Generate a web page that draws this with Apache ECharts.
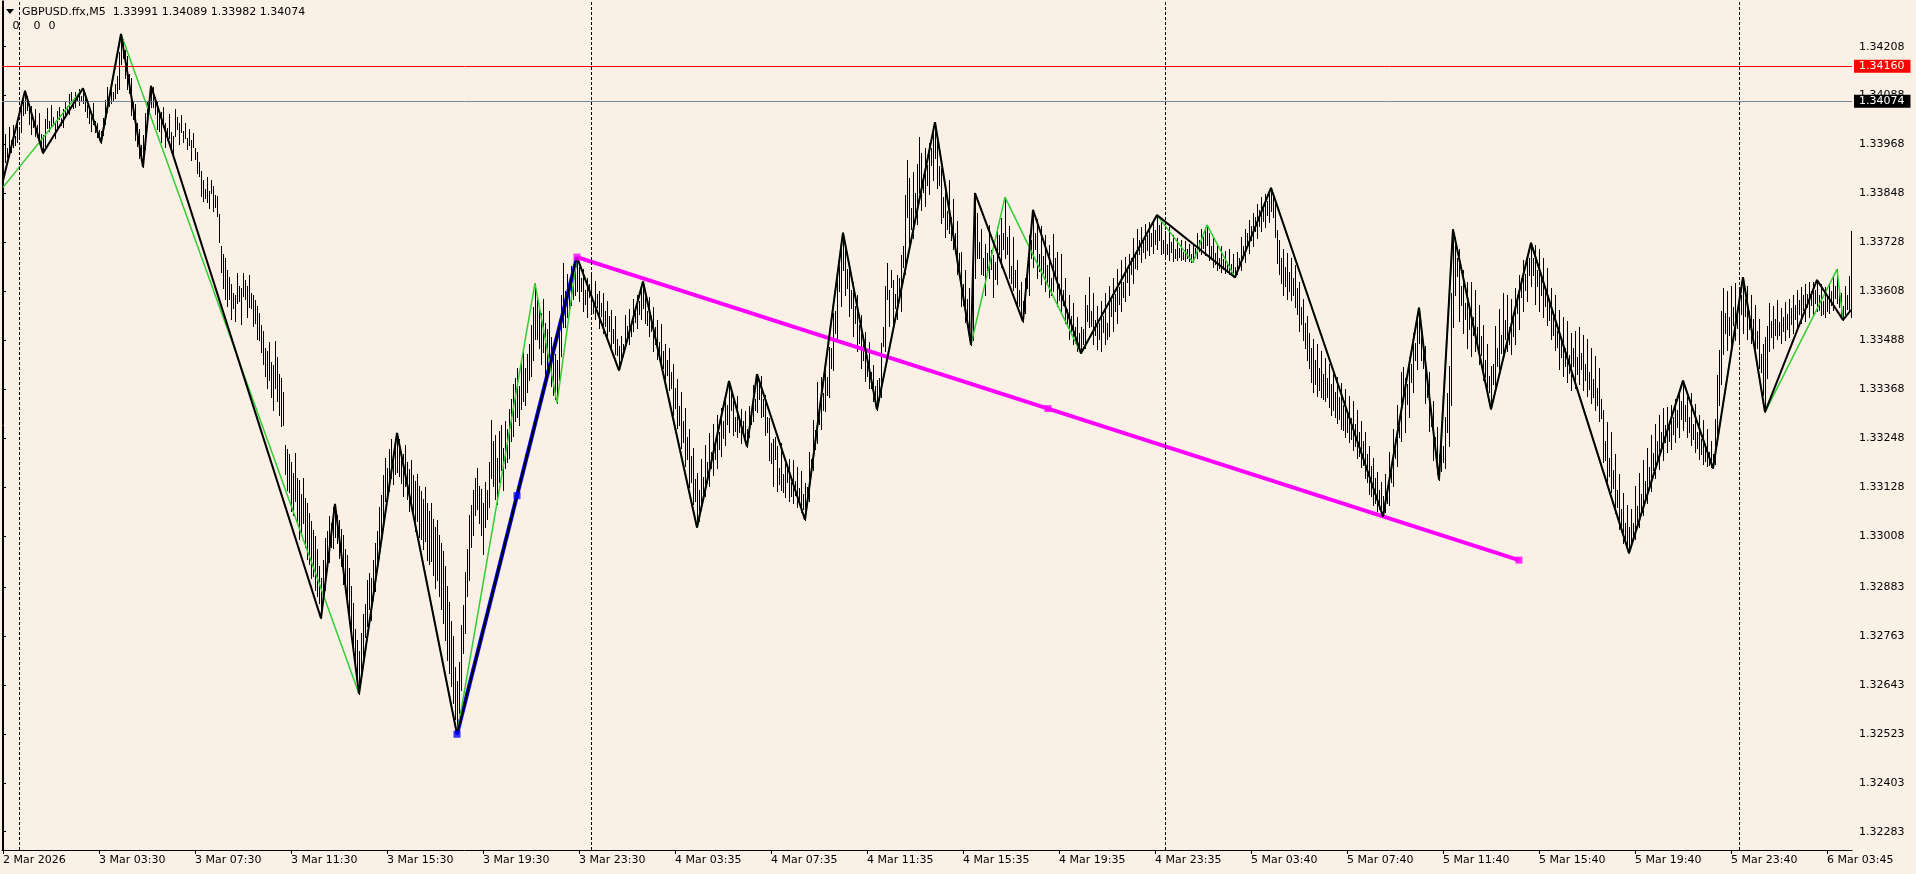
<!DOCTYPE html>
<html><head><meta charset="utf-8">
<script src="https://cdn.jsdelivr.net/npm/echarts@6/dist/echarts.min.js"></script>
<style>html,body{margin:0;padding:0;background:#FAF0E6;overflow:hidden}#c{width:1916px;height:874px}</style>
</head><body><div id="c"></div><script>
const FONT = 'DejaVu Sans';
const header = 'GBPUSD.ffx,M5  1.33991 1.34089 1.33982 1.34074';
const indicatorValues = ['0', '0', '0'];
const tickLabels = ['2 Mar 2026','3 Mar 03:30','3 Mar 07:30','3 Mar 11:30','3 Mar 15:30','3 Mar 19:30','3 Mar 23:30','4 Mar 03:35','4 Mar 07:35','4 Mar 11:35','4 Mar 15:35','4 Mar 19:35','4 Mar 23:35','5 Mar 03:40','5 Mar 07:40','5 Mar 11:40','5 Mar 15:40','5 Mar 19:40','5 Mar 23:40','6 Mar 03:45'];
const TICK_STEP = 48; // bars between time labels
const yTicks = [1.34208,1.34088,1.33968,1.33848,1.33728,1.33608,1.33488,1.33368,1.33248,1.33128,1.33008,1.32883,1.32763,1.32643,1.32523,1.32403,1.32283];
const daySeparators = [8, 294, 581, 868];
const redLevel = 1.34160;
const bidLevel = 1.34074;

// M5 bars: [high, low] in points above 1.30000 (1 point = 0.00001)
const barHighLow = [
// 0-11
[3935,3880],[3995,3925],[3960,3938],[4012,3945],[3978,3950],[4016,3962],[3990,3968],[4022,3975],[4005,3988],[4064,3998],[4082,4040],[4100,4045],
// 12-20
[4088,4052],[4060,4018],[4062,3995],[4030,4012],[4055,3990],[4015,3986],[4045,3978],[3995,3965],[3992,3947],
// 21-40
[4030,3965],[4058,4008],[4025,4002],[4066,4012],[4035,4015],[4020,3985],[4050,4004],[4060,4030],[4032,4016],[4055,4010],
[4072,4035],[4062,4048],[4092,4044],[4098,4072],[4078,4058],[4096,4060],[4085,4074],[4103,4066],[4088,4076],[4106,4070],
// 41-49
[4094,4050],[4066,4035],[4058,4020],[4036,4002],[4070,4018],[4025,3998],[4022,3986],[4004,3984],[4000,3973],
// 50-59
[4032,3992],[4078,4018],[4110,4048],[4085,4062],[4123,4070],[4098,4074],[4116,4082],[4135,4095],[4195,4105],[4239,4165],
// 60-70
[4228,4180],[4200,4130],[4185,4105],[4140,4095],[4130,4040],[4075,4030],[4068,3980],[4020,3965],[4005,3935],[3968,3932],[3992,3913],
// 71-74
[4045,3958],[4072,4018],[4088,4050],[4112,4060],
// 75-99
[4108,4060],[4085,4042],[4075,4005],[4040,4000],[4048,3975],[4060,4010],[4020,3962],[4008,3978],[4042,3985],[3998,3950],
[3990,3940],[4054,3990],[4035,4005],[4022,3970],[4040,3998],[4002,3975],[4020,3984],[3985,3958],[4005,3966],[3978,3930],
[3996,3962],[3960,3932],[3950,3898],[3925,3890],[3902,3842],
// 100-127
[3882,3830],[3860,3838],[3888,3826],[3855,3812],[3880,3848],[3866,3806],[3845,3815],[3842,3794],[3798,3730],[3718,3655],
[3700,3615],[3690,3590],[3660,3572],[3642,3590],[3625,3540],[3605,3568],[3598,3535],[3652,3580],[3620,3585],[3615,3528],
[3654,3596],[3635,3590],[3622,3545],[3648,3570],[3605,3566],[3600,3524],[3588,3530],[3572,3490],
// 128-159
[3556,3488],[3525,3460],[3512,3430],[3470,3400],[3462,3372],[3485,3390],[3435,3350],[3428,3318],[3487,3370],[3446,3340],
[3405,3305],[3395,3278],[3360,3280],[3232,3160],[3222,3120],[3208,3115],[3190,3070],[3162,3060],[3212,3095],[3150,3040],
[3146,3001],[3110,3010],[3151,3040],[3102,2980],[3090,2952],[3064,2940],[3045,2905],[3022,2910],[3008,2876],[2975,2862],
[2935,2845],[2905,2806],
// 160-166
[2950,2850],[3002,2875],[3020,2930],[3058,2945],[3040,2982],[3078,2978],[3087,3005],
// 167-178
[3060,2990],[3048,2955],[3025,2935],[3010,2890],[2975,2870],[2962,2840],[2930,2815],[2885,2768],[2845,2735],[2780,2695],[2752,2650],[2725,2621],
// 179-197
[2770,2668],[2818,2712],[2842,2760],[2900,2788],[2918,2830],[2905,2802],[2950,2850],[2990,2872],[3020,2930],[3080,2955],
[3108,3010],[3158,3040],[3200,3095],[3175,3110],[3222,3118],[3245,3150],[3200,3135],[3232,3160],[3261,3165],
// 198-227
[3245,3155],[3215,3138],[3210,3105],[3232,3130],[3190,3098],[3172,3070],[3195,3090],[3158,3052],[3142,3020],[3160,3045],
[3130,3005],[3118,3000],[3100,2975],[3128,2995],[3090,2950],[3070,2940],[3088,2948],[3050,2912],[3030,2880],[3048,2900],
[3010,2862],[2990,2828],[2972,2795],[2935,2752],[2885,2705],[2846,2672],[2800,2640],[2762,2598],[2688,2560],[2652,2522],
// 228-266
[2700,2575],[2790,2630],[2840,2720],[2920,2770],[2975,2860],[3059,2900],[3085,2980],[3120,3010],[3150,3060],[3174,3075],
[3130,3040],[3123,3010],[3090,2964],[3140,3030],[3120,3050],[3190,3080],[3292,3150],[3240,3130],[3255,3100],[3200,3086],
[3265,3140],[3280,3170],[3225,3120],[3290,3175],[3270,3190],[3320,3200],[3345,3240],[3380,3254],[3395,3290],[3420,3300],
[3375,3280],[3440,3320],[3461,3340],[3420,3330],[3455,3360],[3480,3390],[3525,3400],[3570,3440],[3628,3490],
// 267-277
[3600,3490],[3570,3470],[3555,3430],[3590,3460],[3530,3405],[3515,3395],[3560,3430],[3495,3375],[3470,3355],[3455,3345],[3440,3334],
// 278-287
[3520,3390],[3600,3450],[3677,3520],[3610,3520],[3650,3545],[3630,3555],[3670,3575],[3650,3590],[3680,3600],[3692,3610],
// 288-308
[3668,3585],[3640,3608],[3662,3560],[3612,3578],[3640,3546],[3625,3595],[3648,3555],[3585,3556],[3634,3540],[3602,3570],
[3610,3518],[3580,3548],[3604,3505],[3560,3522],[3585,3490],[3548,3512],[3562,3470],[3515,3482],[3548,3455],[3490,3452],[3475,3414],
// 309-320
[3498,3445],[3478,3452],[3550,3468],[3522,3492],[3565,3480],[3530,3499],[3590,3510],[3562,3532],[3600,3518],[3585,3552],[3615,3540],[3632,3568],
// 321-347
[3612,3530],[3560,3525],[3594,3498],[3548,3510],[3570,3462],[3520,3480],[3538,3442],[3485,3448],[3528,3425],[3462,3420],
[3480,3386],[3440,3402],[3468,3365],[3410,3372],[3430,3305],[3370,3322],[3392,3272],[3328,3280],[3360,3225],[3290,3238],
[3322,3180],[3250,3198],[3270,3128],[3205,3140],[3225,3086],[3148,3095],[3162,3029],
// 348-363
[3120,3045],[3198,3072],[3152,3112],[3232,3105],[3190,3148],[3260,3130],[3215,3175],[3282,3158],[3240,3198],[3305,3175],
[3262,3222],[3322,3205],[3290,3248],[3345,3232],[3330,3282],[3388,3262],
// 364-372
[3360,3318],[3348,3255],[3300,3265],[3352,3250],[3295,3262],[3320,3236],[3290,3258],[3315,3240],[3270,3227],
// 373-377
[3328,3250],[3312,3282],[3378,3290],[3345,3318],[3405,3312],
// 378-401
[3380,3345],[3400,3300],[3345,3302],[3355,3255],[3300,3262],[3298,3195],[3235,3188],[3245,3130],[3250,3198],[3228,3118],
[3175,3135],[3236,3120],[3160,3115],[3188,3104],[3182,3140],[3198,3095],[3140,3105],[3195,3088],[3142,3108],[3178,3078],
[3125,3090],[3168,3066],[3110,3075],[3138,3048],
// 402-420
[3128,3085],[3215,3095],[3198,3160],[3292,3170],[3268,3222],[3386,3235],[3320,3282],[3398,3270],[3358,3318],[3438,3315],
[3398,3355],[3472,3350],[3470,3420],[3555,3415],[3560,3505],[3648,3490],[3672,3610],[3722,3572],[3752,3660],
// 421-437
[3724,3600],[3662,3615],[3680,3548],[3612,3568],[3630,3498],[3572,3530],[3598,3462],[3525,3482],[3550,3420],[3480,3440],
[3508,3388],[3440,3400],[3485,3370],[3410,3372],[3428,3338],[3375,3342],[3390,3318],
// 438-466
[3395,3352],[3482,3350],[3520,3475],[3622,3462],[3677,3590],[3612,3522],[3660,3618],[3635,3525],[3602,3568],[3648,3540],
[3640,3600],[3698,3560],[3720,3668],[3845,3650],[3930,3790],[3885,3714],[3812,3760],[3900,3738],[3848,3800],[3920,3772],
[3986,3850],[3948,3808],[3895,3852],[3960,3818],[3918,3870],[3972,3846],[3960,3918],[4002,3880],[4023,3935],
// 467-484
[3995,3862],[3915,3870],[3910,3775],[3840,3790],[3872,3742],[3805,3760],[3881,3750],[3790,3734],[3835,3712],[3752,3705],
[3780,3650],[3702,3645],[3705,3572],[3625,3575],[3660,3532],[3590,3540],[3615,3490],[3540,3477],
// 485-486
[3754,3489],[3849,3640],
// 487-510
[3800,3690],[3730,3690],[3762,3650],[3690,3648],[3725,3600],[3702,3658],[3770,3640],[3710,3662],[3698,3595],[3680,3638],
[3765,3625],[3745,3700],[3788,3668],[3752,3712],[3839,3690],[3742,3700],[3768,3640],[3670,3628],[3742,3612],[3660,3618],
[3685,3570],[3612,3572],[3630,3545],[3585,3534],
// 511-515
[3640,3555],[3660,3615],[3745,3600],[3735,3690],[3808,3668],
// 516-539
[3752,3712],[3785,3640],[3700,3658],[3768,3625],[3695,3652],[3745,3610],[3672,3630],[3722,3595],[3640,3598],[3748,3610],
[3690,3648],[3705,3572],[3625,3588],[3700,3560],[3612,3575],[3640,3530],[3565,3528],[3600,3490],[3548,3512],[3580,3480],
[3520,3482],[3545,3462],[3505,3470],[3520,3456],
// 540-577
[3515,3478],[3600,3470],[3575,3535],[3644,3520],[3560,3522],[3605,3480],[3538,3500],[3572,3466],[3530,3490],[3585,3462],
[3548,3508],[3605,3478],[3530,3490],[3622,3498],[3588,3548],[3640,3510],[3602,3560],[3662,3530],[3618,3578],[3685,3560],
[3632,3595],[3692,3585],[3668,3630],[3700,3598],[3690,3650],[3740,3628],[3705,3665],[3760,3662],[3735,3700],[3767,3680],
[3740,3705],[3772,3690],[3745,3710],[3778,3698],[3752,3718],[3782,3702],[3758,3725],[3795,3712],
// 578-616
[3770,3735],[3778,3700],[3735,3702],[3755,3690],[3725,3700],[3765,3685],[3730,3705],[3745,3682],[3712,3690],[3740,3684],
[3715,3692],[3735,3686],[3705,3688],[3732,3683],[3712,3690],[3725,3682],[3700,3681],[3722,3679],[3715,3692],[3750,3690],
[3735,3708],[3762,3700],[3742,3715],[3765,3698],[3771,3722],[3752,3685],[3720,3690],[3738,3668],[3702,3675],[3725,3660],
[3690,3666],[3718,3656],[3688,3662],[3706,3652],[3680,3655],[3712,3650],[3675,3652],[3700,3646],[3668,3642],
// 617-634
[3705,3650],[3690,3665],[3742,3660],[3720,3690],[3762,3680],[3750,3718],[3782,3702],[3768,3735],[3800,3720],[3790,3755],
[3822,3740],[3808,3768],[3840,3755],[3815,3780],[3846,3765],[3830,3795],[3850,3778],[3862,3805],
// 635-690
[3850,3790],[3828,3742],[3758,3677],[3735,3650],[3690,3628],[3712,3600],[3668,3622],[3702,3590],[3655,3610],[3690,3587],
[3640,3598],[3672,3570],[3615,3552],[3630,3510],[3570,3528],[3590,3488],[3530,3470],[3548,3440],[3505,3420],[3470,3385],
[3492,3360],[3440,3382],[3478,3352],[3420,3365],[3462,3350],[3405,3345],[3445,3338],[3395,3350],[3430,3325],[3380,3305],
[3412,3318],[3360,3300],[3398,3285],[3350,3295],[3383,3270],[3330,3268],[3368,3250],[3315,3262],[3352,3238],[3298,3246],
[3340,3220],[3282,3230],[3318,3200],[3262,3205],[3290,3178],[3240,3182],[3262,3150],[3210,3140],[3230,3110],[3180,3105],
[3200,3085],[3150,3090],[3165,3070],[3120,3075],[3140,3062],[3105,3056],
// 691-708
[3160,3068],[3128,3090],[3215,3085],[3185,3140],[3270,3130],[3245,3200],[3330,3180],[3290,3250],[3410,3240],[3423,3345],
[3395,3262],[3380,3332],[3448,3300],[3430,3385],[3505,3360],[3482,3440],[3545,3418],[3568,3482],
// 709-718
[3528,3440],[3470,3420],[3473,3335],[3395,3350],[3410,3265],[3320,3278],[3340,3195],[3250,3208],[3275,3160],[3210,3146],
// 719-725
[3250,3168],[3228,3190],[3300,3175],[3358,3262],[3425,3228],[3605,3330],[3760,3520],
// 726-744
[3742,3600],[3690,3645],[3712,3535],[3620,3575],[3660,3505],[3580,3540],[3632,3470],[3560,3515],[3630,3450],[3545,3500],
[3612,3462],[3520,3478],[3575,3430],[3498,3452],[3525,3390],[3440,3398],[3480,3358],[3400,3362],[3425,3319],
// 745-764
[3430,3380],[3522,3372],[3470,3425],[3565,3418],[3502,3458],[3603,3450],[3538,3490],[3598,3462],[3520,3478],[3590,3455],
[3540,3498],[3615,3480],[3598,3555],[3648,3515],[3640,3595],[3685,3560],[3650,3612],[3695,3585],[3690,3648],[3727,3620],
// 765-813
[3690,3648],[3722,3578],[3660,3620],[3712,3560],[3640,3598],[3690,3545],[3610,3572],[3665,3525],[3580,3538],[3615,3490],
[3545,3502],[3598,3465],[3510,3472],[3562,3418],[3490,3448],[3545,3400],[3468,3425],[3535,3385],[3452,3408],[3505,3366],
[3470,3425],[3512,3372],[3448,3405],[3521,3380],[3458,3418],[3500,3365],[3430,3390],[3490,3352],[3410,3368],[3470,3335],
[3392,3350],[3450,3317],[3372,3330],[3420,3290],[3345,3298],[3317,3190],[3240,3195],[3288,3140],[3200,3155],[3262,3115],
[3170,3125],[3210,3065],[3120,3078],[3160,3025],[3075,3030],[3113,2992],[3040,2998],[3085,2975],[3030,2966],
// 814-840
[3075,2985],[3040,3002],[3130,3000],[3082,3040],[3162,3030],[3110,3068],[3195,3060],[3142,3100],[3225,3090],[3178,3135],
[3255,3118],[3212,3170],[3282,3150],[3240,3198],[3305,3172],[3262,3218],[3322,3195],[3280,3238],[3325,3215],[3282,3242],
[3330,3222],[3300,3258],[3345,3238],[3318,3275],[3365,3250],[3340,3295],[3389,3268],
// 841-855
[3330,3290],[3358,3250],[3300,3262],[3358,3232],[3282,3245],[3332,3215],[3262,3225],[3305,3198],[3245,3208],[3292,3185],
[3230,3192],[3270,3180],[3215,3182],[3240,3178],[3208,3174],
// 856-870
[3295,3185],[3402,3240],[3465,3330],[3560,3380],[3615,3455],[3555,3505],[3610,3465],[3545,3500],[3622,3472],[3570,3525],
[3628,3488],[3562,3518],[3612,3480],[3598,3552],[3643,3505],
// 871-881
[3590,3548],[3620,3492],[3560,3515],[3598,3482],[3540,3500],[3575,3462],[3512,3470],[3540,3420],[3455,3410],[3480,3355],[3497,3312],
// 882-907
[3522,3395],[3580,3462],[3535,3495],[3572,3470],[3540,3502],[3587,3490],[3532,3500],[3568,3481],[3545,3510],[3582,3488],
[3552,3515],[3590,3495],[3568,3528],[3598,3505],[3575,3540],[3612,3515],[3588,3552],[3618,3530],[3598,3562],[3625,3535],
[3602,3570],[3630,3545],[3608,3575],[3632,3552],[3612,3580],[3636,3560],
// 908-924
[3598,3562],[3625,3550],[3585,3552],[3618,3546],[3595,3560],[3628,3555],[3608,3575],[3645,3562],[3622,3592],[3662,3580],
[3615,3570],[3605,3545],[3572,3538],[3620,3552],[3598,3565],[3645,3560],[3756,3545]
];

// ZigZag vertices: [bar index, points above 1.30000]
const zigzagBlack = [[0,3880],[11,4100],[20,3947],[40,4106],[49,3973],[59,4239],[70,3913],[74,4112],[159,2806],[166,3087],[178,2621],[197,3261],[227,2522],[287,3692],[308,3414],[320,3632],[347,3029],[363,3388],[372,3227],[377,3405],[401,3048],[420,3752],[437,3318],[466,4023],[484,3477],[486,3849],[510,3534],[515,3808],[539,3456],[577,3795],[616,3642],[634,3862],[690,3056],[708,3568],[718,3146],[725,3760],[744,3319],[764,3727],[813,2966],[840,3389],[855,3174],[870,3643],[881,3312],[907,3636],[920,3538],[924,3562]];
const zigzagGreen = [[0,3863],[40,4106],[49,3973],[59,4239],[178,2621],[197,3261],[227,2522],[266,3628],[277,3334],[287,3692],[308,3414],[320,3632],[347,3029],[363,3388],[372,3227],[377,3405],[401,3048],[420,3752],[437,3318],[466,4023],[484,3477],[501,3839],[539,3456],[577,3795],[595,3679],[602,3771],[616,3642],[634,3862],[690,3056],[708,3568],[718,3146],[725,3760],[744,3319],[764,3727],[813,2966],[840,3389],[855,3174],[870,3643],[881,3312],[917,3662],[920,3538]];
const blueTrend = [[227,2522],[287,3692]];
const magentaTrend = [[287,3692],[758,2949]];

const toPrice = p => Math.round(130000 + p) / 100000;
const N = barHighLow.length;
const Y_MIN = 1.322381, Y_MAX = 1.343200;

const bars = barHighLow.map(([h, l], i) => [i, toPrice(h), toPrice(l)]);
const asLine = arr => arr.map(([i, p]) => [i, toPrice(p)]);
const midOf = (a, b) => [(a[0] + b[0]) / 2, (a[1] + b[1]) / 2];
const blueL = asLine(blueTrend), magL = asLine(magentaTrend);
const tickBars = tickLabels.map((_, k) => k * TICK_STEP);
const txt = '11px "DejaVu Sans"';

const chart = echarts.init(document.getElementById('c'));
chart.setOption({
  animation: false,
  backgroundColor: '#FAF0E6',
  textStyle: { fontFamily: FONT },
  grid: { left: 2, right: 64, top: 1, bottom: 24, show: false },
  xAxis: {
    type: 'value', min: -0.5, max: N - 0.5,
    axisLine: { show: true, lineStyle: { color: '#000', width: 1 } },
    axisTick: { show: true, customValues: tickBars, length: 4, lineStyle: { color: '#000' } },
    axisLabel: { customValues: tickBars, formatter: v => tickLabels[Math.round(v / TICK_STEP)], align: 'left', margin: 5, color: '#000', fontFamily: FONT, fontSize: 11 },
    splitLine: { show: false }
  },
  yAxis: [{
    type: 'value', position: 'right', min: Y_MIN, max: Y_MAX, scale: true,
    axisLine: { show: true, lineStyle: { color: '#000', width: 1 } },
    axisTick: { show: true, customValues: yTicks, length: 3, lineStyle: { color: '#000' } },
    axisLabel: { customValues: yTicks, formatter: v => v.toFixed(5), margin: 7, color: '#000', fontFamily: FONT, fontSize: 11 },
    splitLine: { show: false }
  }, {
    type: 'value', position: 'left', min: Y_MIN, max: Y_MAX,
    axisLine: { show: true, onZero: false, lineStyle: { color: '#000', width: 1 } },
    axisTick: { show: false }, axisLabel: { show: false }, splitLine: { show: false }
  }],
  series: [
    {
      type: 'line', z: 1, data: [[0, 1.333]], showSymbol: false, lineStyle: { opacity: 0 }, silent: true,
      markLine: {
        silent: true, symbol: ['none', 'none'], animation: false, precision: 5,
        data: [
          ...daySeparators.map(b => ({ xAxis: b, lineStyle: { color: '#000', width: 1, type: [3, 2] }, label: { show: false } })),
          { yAxis: redLevel, lineStyle: { color: '#ff0000', width: 1, type: 'solid' },
            label: { show: true, position: 'end', distance: 2, formatter: redLevel.toFixed(5), backgroundColor: '#ff0000', color: '#ffffff', padding: [1, 6, 1, 5], lineHeight: 11, fontFamily: FONT, fontSize: 11 } },
          { yAxis: bidLevel, lineStyle: { color: '#778899', width: 1, type: 'solid' },
            label: { show: true, position: 'end', distance: 2, formatter: bidLevel.toFixed(5), backgroundColor: '#000000', color: '#ffffff', padding: [1, 6, 1, 5], lineHeight: 11, fontFamily: FONT, fontSize: 11 } }
        ]
      }
    },
    {
      type: 'custom', z: 2, data: bars, encode: { x: 0, y: [1, 2] }, clip: true, progressive: 0,
      renderItem: (params, api) => {
        const a = api.coord([api.value(0), api.value(1)]);
        const b = api.coord([api.value(0), api.value(2)]);
        const top = Math.round(a[1]), bot = Math.round(b[1]);
        return { type: 'rect', shape: { x: Math.floor(a[0]), y: top, width: 1, height: Math.max(1, bot - top + 1) }, style: { fill: '#000' } };
      }
    },
    { type: 'line', z: 3, data: magL, showSymbol: false, lineStyle: { color: '#ff00ff', width: 4 }, silent: true },
    { type: 'line', z: 3, data: blueL, showSymbol: false, lineStyle: { color: '#0000ff', width: 4 }, silent: true },
    { type: 'line', z: 4, data: asLine(zigzagGreen), showSymbol: false, lineStyle: { color: '#32cd32', width: 1.5 }, silent: true },
    { type: 'line', z: 5, data: asLine(zigzagBlack), showSymbol: false, lineStyle: { color: '#000000', width: 2 }, silent: true },
    { type: 'scatter', z: 6, data: [blueL[0], midOf(blueL[0], blueL[1])], symbol: 'rect', symbolSize: 7, itemStyle: { color: '#0000ff' }, silent: true },
    { type: 'scatter', z: 6, data: [magL[0], midOf(magL[0], magL[1]), magL[1]], symbol: 'rect', symbolSize: 7, itemStyle: { color: '#ff00ff' }, silent: true }
  ],
  graphic: [
    { type: 'polygon', z: 100, shape: { points: [[6, 9], [14, 9], [10, 14]] }, style: { fill: '#000' } },
    { type: 'text', z: 100, x: 22, y: 12.5, style: { text: header, fill: '#000', font: txt, verticalAlign: 'middle', align: 'left' } },
    { type: 'text', z: 100, x: 16, y: 26, style: { text: indicatorValues[0], fill: '#000', font: txt, verticalAlign: 'middle', align: 'center' } },
    { type: 'text', z: 100, x: 37, y: 26, style: { text: indicatorValues[1], fill: '#000', font: txt, verticalAlign: 'middle', align: 'center' } },
    { type: 'text', z: 100, x: 52, y: 26, style: { text: indicatorValues[2], fill: '#000', font: txt, verticalAlign: 'middle', align: 'center' } }
  ]
});
</script></body></html>
